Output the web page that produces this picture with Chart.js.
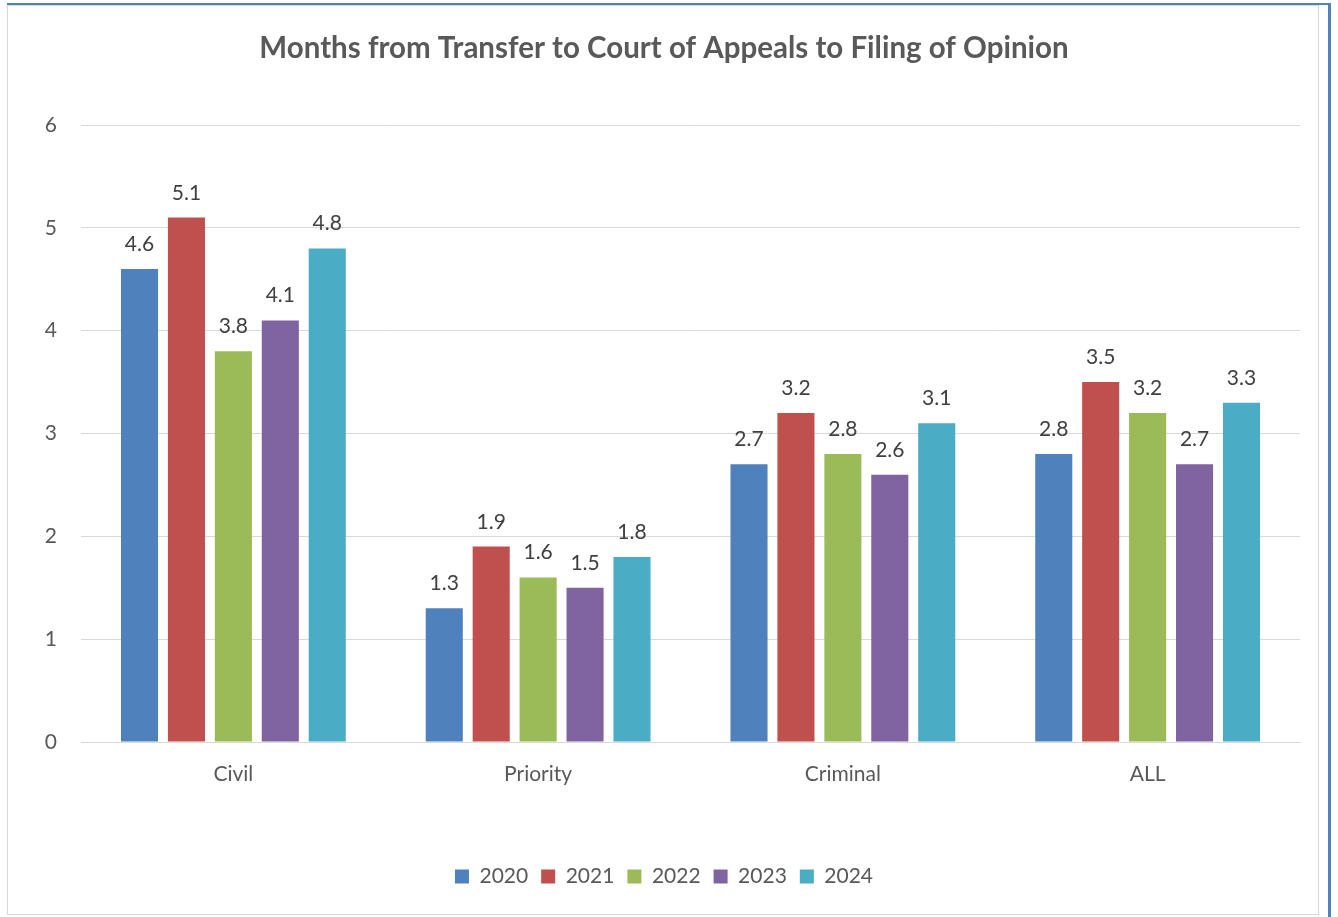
<!DOCTYPE html>
<html>
<head>
<meta charset="utf-8">
<script src="https://cdn.jsdelivr.net/npm/chart.js@4"></script>
<style>
  body { margin: 0; background: #fff; }
  #blueTop { position: absolute; left: 7px; top: 3px; width: 1324px; height: 2px; background: #4f81bd; }
  #blueRight { position: absolute; left: 1328px; top: 5px; width: 3px; height: 912px; background: #4f81bd; }
  #frame { position: absolute; left: 7px; top: 5px; width: 1310px; height: 908px; border: 1.5px solid #d9d9d9; }
  #chart { position: absolute; left: 8px; top: 6px; }
</style>
</head>
<body>
<div id="blueTop"></div>
<div id="blueRight"></div>
<div id="frame"></div>
<canvas id="chart" width="1310" height="908"></canvas>
<script>
// データ
const categories = ['Civil', 'Priority', 'Criminal', 'ALL'];
const years = ['2020', '2021', '2022', '2023', '2024'];
const v2020 = [4.6, 1.3, 2.7, 2.8];
const v2021 = [5.1, 1.9, 3.2, 3.5];
const v2022 = [3.8, 1.6, 2.8, 3.2];
const v2023 = [4.1, 1.5, 2.6, 2.7];
const v2024 = [4.8, 1.8, 3.1, 3.3];
const yTicks = [0, 1, 2, 3, 4, 5, 6];

const colors = ['#4f81bd', '#c0504d', '#9bbb59', '#8064a2', '#4bacc6'];
const seriesValues = [v2020, v2021, v2022, v2023, v2024];
const FONT = 'Lato, "Open Sans", sans-serif';

// 棒の上に値を描くプラグイン
const valueLabels = {
  id: 'valueLabels',
  afterDatasetsDraw(chart) {
    const ctx = chart.ctx;
    ctx.save();
    ctx.font = '21px ' + FONT;
    ctx.fillStyle = '#404040';
    ctx.textAlign = 'center';
    ctx.textBaseline = 'alphabetic';
    chart.data.datasets.forEach((ds, i) => {
      chart.getDatasetMeta(i).data.forEach((bar, j) => {
        ctx.fillText(ds.data[j].toFixed(1), bar.x, bar.y - 18);
      });
    });
    ctx.restore();
  }
};

let ctx = document.getElementById('chart').getContext('2d');
let chart = new Chart(ctx, {
  type: 'bar',
  data: {
    labels: categories,
    datasets: years.map((y, i) => ({
      label: y,
      data: seriesValues[i],
      backgroundColor: colors[i],
      barPercentage: 0.79,
      categoryPercentage: 0.77
    }))
  },
  options: {
    responsive: false,
    animation: false,
    devicePixelRatio: 1,
    layout: { padding: { left: 20, right: 18, top: 0, bottom: 17 } },
    plugins: {
      title: {
        display: true,
        text: 'Months from Transfer to Court of Appeals to Filing of Opinion',
        color: '#595959',
        font: { family: FONT, size: 29.5, weight: 'bold' },
        padding: { top: 24.3, bottom: 59.3 }
      },
      legend: {
        position: 'bottom',
        labels: {
          color: '#595959',
          font: { family: FONT, size: 21 },
          boxWidth: 14,
          boxHeight: 14,
          padding: 13
        }
      },
      tooltip: { enabled: false }
    },
    scales: {
      x: {
        grid: { display: false, drawTicks: false },
        border: { display: true, color: '#d9d9d9', width: 1 },
        ticks: {
          color: '#595959',
          font: { family: FONT, size: 21 },
          padding: 20
        },
        afterFit(scale) { scale.height = 111; }
      },
      y: {
        min: 0,
        max: 6,
        afterBuildTicks(scale) { scale.ticks = yTicks.map(v => ({ value: v })); },
        grid: { color: '#d9d9d9', drawTicks: false },
        border: { display: false },
        ticks: {
          color: '#595959',
          font: { family: FONT, size: 21 },
          padding: 24
        },
        afterFit(scale) { scale.width = 53; }
      }
    }
  },
  plugins: [valueLabels]
});
</script>
</body>
</html>
